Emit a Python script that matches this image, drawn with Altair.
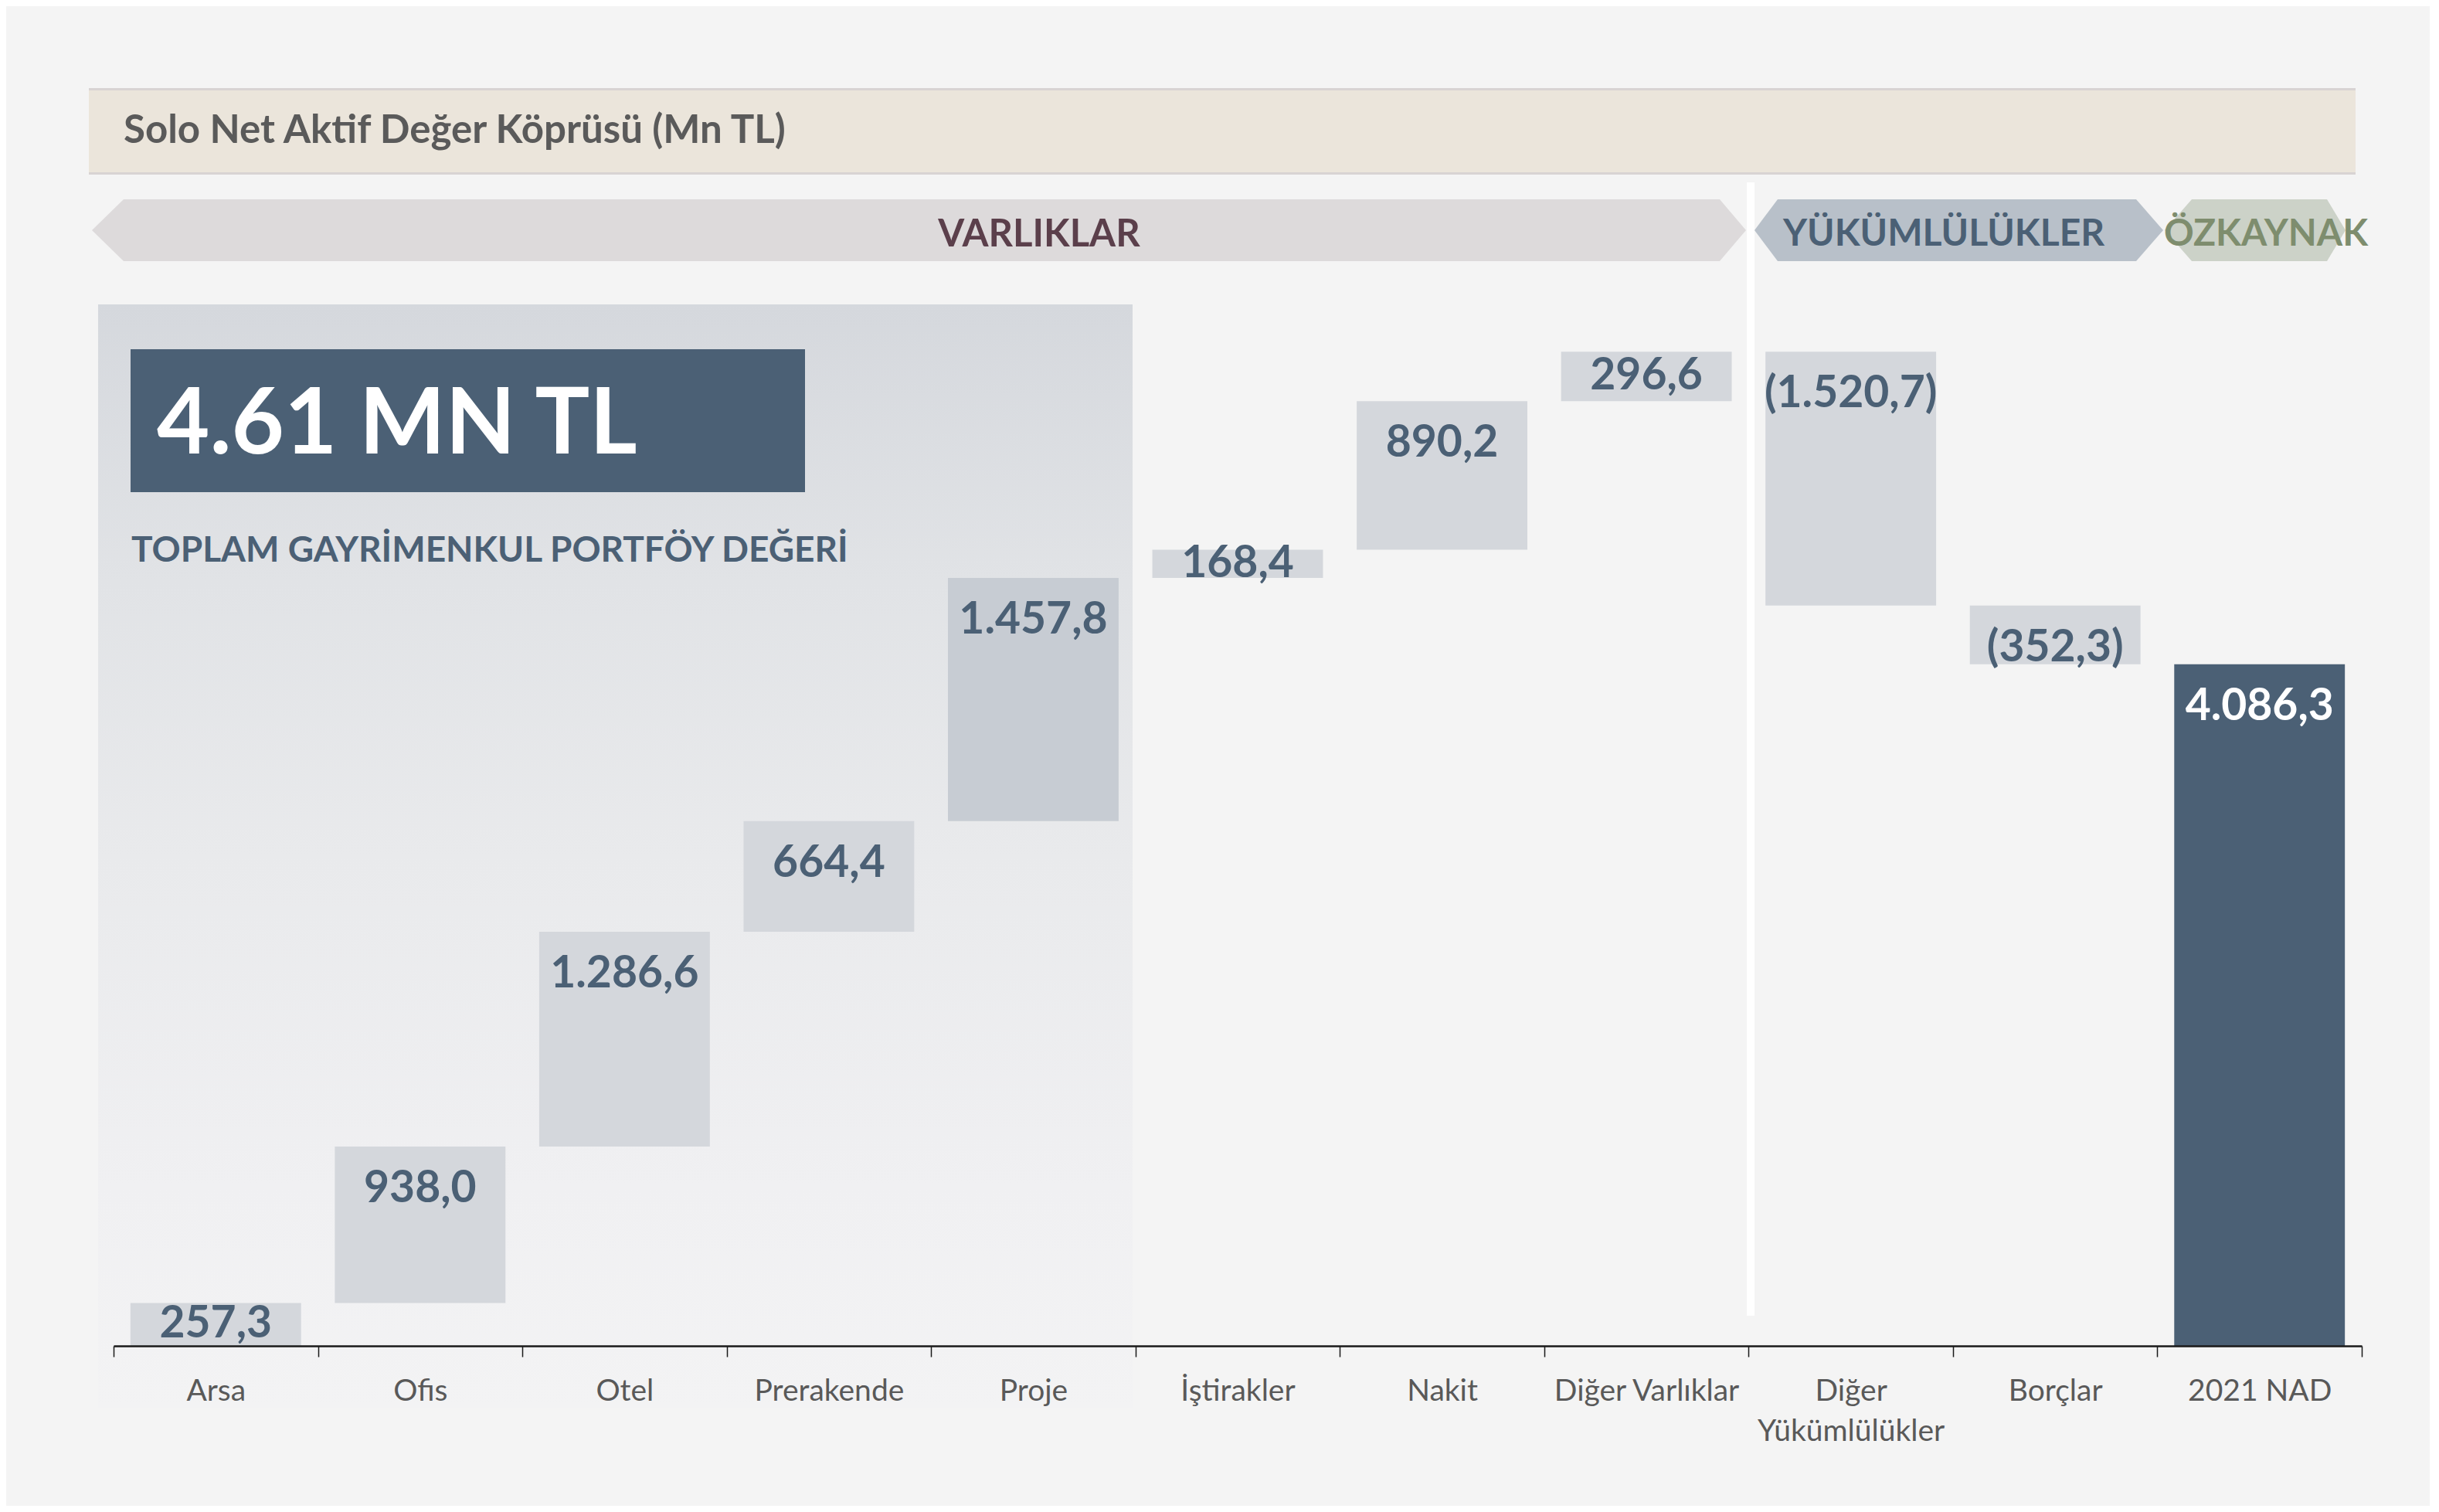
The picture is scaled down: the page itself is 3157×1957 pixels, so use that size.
import altair as alt
import pandas as pd

# ---------------- data ----------------
categories = ["Arsa", "Ofis", "Otel", "Prerakende", "Proje", "İştirakler", "Nakit",
              "Diğer Varlıklar", "Diğer Yükümlülükler", "Borçlar", "2021 NAD"]
values = [257.3, 938.0, 1286.6, 664.4, 1457.8, 168.4, 890.2, 296.6, -1520.7, -352.3, 4086.3]
kinds = ["delta"] * 10 + ["total"]

title_text = "Solo Net Aktif Değer Köprüsü (Mn TL)"
group_names = ["VARLIKLAR", "YÜKÜMLÜLÜKLER", "ÖZKAYNAK"]
headline = "4.61 MN TL"
headline_sub = "TOPLAM GAYRİMENKUL PORTFÖY DEĞERİ"


def tr_fmt(v):
    s = f"{abs(v):,.1f}".replace(",", "_").replace(".", ",").replace("_", ".")
    return f"({s})" if v < 0 else s


rows = []
run = 0.0
for c, v, k in zip(categories, values, kinds):
    if k == "total":
        start, end = 0.0, v
        run = v
    else:
        start, end = run, run + v
        run = end
    rows.append({"category": c, "value": v, "kind": k, "start": start, "end": end,
                 "label": tr_fmt(v)})
df = pd.DataFrame(rows)

FONT = "Lato"
DARK = "#4b6075"
BAR = "#d4d7dc"

x_enc = alt.X("category:N", sort=categories,
              scale=alt.Scale(paddingInner=0, paddingOuter=0),
              axis=alt.Axis(title=None, labelAngle=0, labelFont=FONT, labelFontSize=39,
                            labelColor="#595959", domainColor="#1a1a1a", domainWidth=2.5,
                            tickColor="#1a1a1a", tickWidth=1.5, tickSize=14,
                            labelPadding=25, tickBand="extent", labelLineHeight=52,
                            labelLimit=1000, zindex=1,
                            labelExpr="length(datum.label) > 16 ? split(datum.label, ' ') : datum.label"))
y_scale = alt.Scale(domain=[0, 8031], nice=False, zero=True)

base = alt.Chart(df)

bars = base.mark_bar(width=alt.RelativeBandSize(0.835)).encode(
    x=x_enc,
    y=alt.Y("start:Q", scale=y_scale, axis=None),
    y2="end:Q",
    color=alt.condition(
        alt.datum.category == "Proje",
        alt.value("#c7ccd3"),
        alt.Color("kind:N", scale=alt.Scale(domain=["delta", "total"], range=[BAR, DARK]),
                  legend=None),
    ),
)

labels = base.transform_calculate(
    top="max(datum.start, datum.end)",
    bot="min(datum.start, datum.end)",
).transform_calculate(
    label_y="(datum.top - datum.bot) < 320 ? (datum.top + datum.bot) / 2 : datum.top - 255"
).mark_text(font=FONT, fontSize=57, fontWeight="bold", baseline="middle", align="center").encode(
    x=alt.X("category:N", sort=categories),
    y=alt.Y("label_y:Q", scale=y_scale),
    text="label:N",
    color=alt.condition(alt.datum.kind == "total", alt.value("white"), alt.value(DARK)),
)

one = alt.Data(values=[{"a": 1}])


def rect(x1, x2, y1, y2, color, **kw):
    return alt.Chart(one).mark_rect(color=color, **kw).encode(
        x=alt.value(x1), x2=alt.value(x2), y=alt.value(y1), y2=alt.value(y2))


def text(x, y, s, size, color, weight="bold", align="left", baseline="alphabetic", **kw):
    return alt.Chart(one).mark_text(text=s, font=FONT, fontSize=size, fontWeight=weight,
                                    color=color, align=align, baseline=baseline, **kw).encode(
        x=alt.value(x), y=alt.value(y))


def banner(left, c1, c2, right, cy, half_h, color):
    cx = (left + right) / 2
    r = (right - left) / 2
    a = (c1 - cx) / r
    b = (c2 - cx) / r
    h = half_h / r
    path = (f"M -1 0 L {a:.4f} {-h:.4f} L {b:.4f} {-h:.4f} L 1 0 "
            f"L {b:.4f} {h:.4f} L {a:.4f} {h:.4f} Z")
    return alt.Chart(one).mark_point(shape=path, filled=True, color=color, opacity=1,
                                     strokeWidth=0, size=(2 * r) ** 2).encode(
        x=alt.value(cx), y=alt.value(cy))


# plot origin is page (147, 8)
OX, OY = 147, 8

title_band = rect(115 - OX, 3049 - OX, 114 - OY, 226 - OY, "#d8d3d3")
title_fill = rect(115 - OX, 3049 - OX, 117 - OY, 223 - OY, "#ebe5db")
title_lbl = text(160 - OX, 185 - OY, title_text, 51, "#5a5a5a")

b1 = banner(119 - OX, 160 - OX, 2226 - OX, 2260 - OX, 298 - OY, 40, "#dddadb")
b2 = banner(2271 - OX, 2301 - OX, 2765 - OX, 2800 - OX, 298 - OY, 40, "#b8c0c9")
b3 = banner(2802 - OX, 2837 - OX, 3012 - OX, 3036 - OX, 298 - OY, 40, "#ccd2c8")
t1 = text(1345 - OX, 304 - OY, group_names[0], 49, "#5b3f4b", align="center", baseline="middle")
t2 = text(2516 - OX, 304 - OY, group_names[1], 48, DARK, align="center", baseline="middle")
t3 = text(2933 - OX, 304 - OY, group_names[2], 48, "#7e8d6e", align="center", baseline="middle")

white_line = rect(2261 - OX, 2271 - OX, 236 - OY, 1703 - OY, "#ffffff")

panel = alt.Chart(one).mark_rect(
    color=alt.Gradient(
        gradient="linear", x1=0, x2=0, y1=0, y2=1,
        stops=[alt.GradientStop(color="#d5d8dd", offset=0),
               alt.GradientStop(color="#e1e3e6", offset=0.25),
               alt.GradientStop(color="#e9eaec", offset=0.5),
               alt.GradientStop(color="#f0f0f2", offset=0.8),
               alt.GradientStop(color="#f3f3f4", offset=1)])
).encode(x=alt.value(127 - OX), x2=alt.value(1466 - OX), y=alt.value(394 - OY), y2=alt.value(1823 - OY))

dark_box = rect(169 - OX, 1042 - OX, 452 - OY, 637 - OY, DARK)
head_lbl = text(203 - OX, 587 - OY, headline, 118, "white")
sub_lbl = text(170 - OX, 727 - OY, headline_sub, 46, DARK)

chart = alt.layer(
    title_band, title_fill, title_lbl,
    panel, dark_box, head_lbl, sub_lbl,
    bars, labels,
    white_line, b1, b2, b3, t1, t2, t3,
).properties(
    width=2910, height=1734,
    padding={"left": 139, "top": 0, "right": 88, "bottom": 207},
    autosize=alt.AutoSizeParams(type="none"),
    background="#f4f4f4",
).configure_view(stroke=None)

chart.save("out.html", embed_options={"renderer": "svg", "actions": False})
